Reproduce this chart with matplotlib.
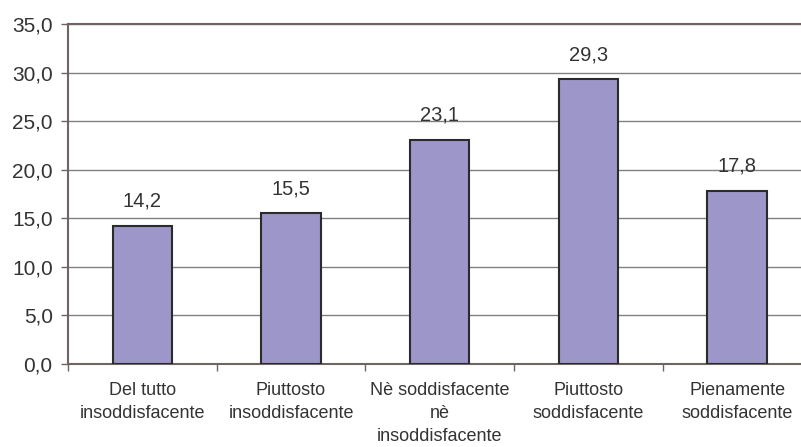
import matplotlib.pyplot as plt
import numpy as np

categories = ["Del tutto\ninsoddisfacente", "Piuttosto\ninsoddisfacente",
              "Nè soddisfacente\nnè\ninsoddisfacente", "Piuttosto\nsoddisfacente",
              "Pienamente\nsoddisfacente"]
values = [14.2, 15.5, 23.1, 29.3, 17.8]
value_labels = ["14,2", "15,5", "23,1", "29,3", "17,8"]
y_ticks = [0, 5, 10, 15, 20, 25, 30, 35]
y_tick_labels = ["0,0", "5,0", "10,0", "15,0", "20,0", "25,0", "30,0", "35,0"]

plt.rcParams['font.family'] = ['Liberation Sans', 'DejaVu Sans']
text_color = "#333333"

fig = plt.figure(figsize=(8.01, 4.47), dpi=100)
ax = fig.add_axes([68 / 801, 83 / 447, 743.5 / 801, 340 / 447])

x = np.arange(len(categories))
bars = ax.bar(x, values, width=0.4, color="#9c96c9", edgecolor="#2b2b2b",
              linewidth=1.5, zorder=3)
for bar, lab in zip(bars, value_labels):
    ax.annotate(lab, (bar.get_x() + bar.get_width() / 2, bar.get_height()),
                xytext=(0, 11), textcoords="offset points", ha="center", va="bottom",
                fontsize=14.5, color=text_color)

ax.set_xlim(-0.5, len(categories) - 0.5)
ax.set_ylim(0, 35)
ax.set_yticks(y_ticks)
ax.set_yticklabels(y_tick_labels)
ax.yaxis.grid(True, color="#808080", linewidth=1, zorder=0)

ax.set_xticks(x)
ax.set_xticklabels(categories, linespacing=1.45)
ax.set_xticks(np.arange(len(categories) + 1) - 0.5, minor=True)
ax.tick_params(axis="x", which="major", length=0, pad=13, labelsize=13, labelcolor=text_color)
ax.tick_params(axis="x", which="minor", length=5, width=1, color="#6e6461")
ax.tick_params(axis="y", length=5, width=1, color="#6e6461", pad=6, labelsize=15,
               labelcolor=text_color)

for side in ["left", "bottom", "top"]:
    ax.spines[side].set_color("#6e6461")
    ax.spines[side].set_linewidth(1.5)
ax.spines["right"].set_visible(False)

fig.savefig("out.png", dpi=100)
